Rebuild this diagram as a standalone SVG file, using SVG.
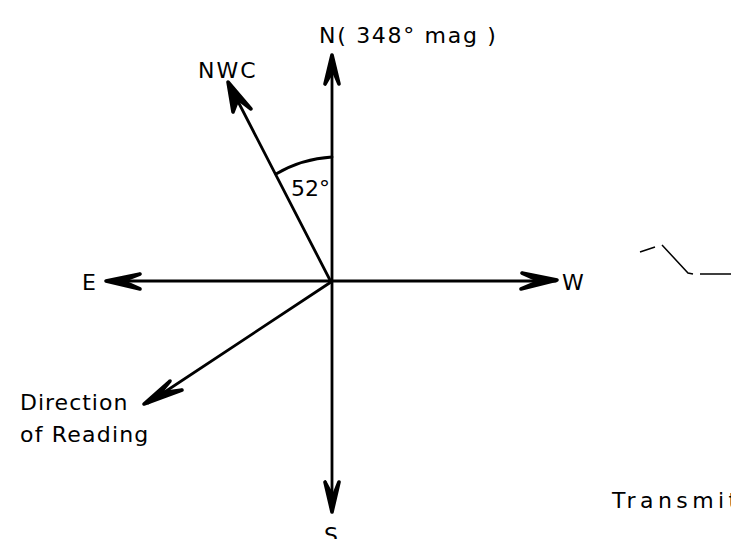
<svg xmlns="http://www.w3.org/2000/svg" width="731" height="539" viewBox="0 0 731 539">
<style>
.ln{stroke:#000;stroke-width:2.8;fill:none;stroke-linecap:round;stroke-linejoin:round}
.hd{stroke:#000;stroke-width:3.6;fill:#000;stroke-linecap:round;stroke-linejoin:round}
.t{font-family:"DejaVu Sans","Liberation Sans",sans-serif;font-size:22px;fill:#000}
</style>
<rect width="731" height="539" fill="#fff"/>
<g id="connectors">
<line class="ln" x1="332" y1="58" x2="332" y2="510"/>
<line class="ln" x1="108" y1="281" x2="556" y2="281"/>
<line class="ln" x1="331" y1="282" x2="229" y2="84"/>
<line class="ln" x1="331" y1="282" x2="148" y2="403"/>
<path class="hd" d="M325,84 L332,55 L339,84 L333,70 Z"/>
<path class="hd" d="M325,482 L332,512 L339,482 L333,497 Z"/>
<path class="hd" d="M140,274 L106,281 L140,289 L122,281 Z"/>
<path class="hd" d="M522,273 L557,280 L521,289 L540,281 Z"/>
<path class="hd" d="M233,112 L228,82 L251,109 L238,99 Z"/>
<path class="hd" d="M170,381 L144,404 L182,390 L160,393 Z"/>
<path class="ln" d="M276,174 A124,124 0 0 1 332,157"/>
</g>
<g id="squiggle"><path stroke="#000" stroke-width="1.5" fill="none" d="M640,252 L655,247 M662,245 L688,273 L693,274 M700,274 L731,274"/></g>
<g id="n-N"><text class="t" x="319" y="43" font-size="23" letter-spacing="1.7">N( 348° mag )</text></g>
<g id="n-NWC"><text class="t" x="198" y="78" letter-spacing="2">NWC</text></g>
<g id="n-52"><text class="t" x="291" y="196" font-size="20">52°</text></g>
<g id="n-E"><text class="t" x="82" y="290">E</text></g>
<g id="n-W"><text class="t" x="562" y="290">W</text></g>
<g id="n-dir"><text class="t" x="20" y="410" font-size="24" letter-spacing="1">Direction</text><text class="t" x="20" y="442" font-size="24" letter-spacing="1.2">of Reading</text></g>
<g id="n-S"><text class="t" x="324" y="543">S</text></g>
<g id="n-T"><text class="t" x="612" y="508" font-size="25" letter-spacing="4.4">Transmit</text></g>
</svg>
